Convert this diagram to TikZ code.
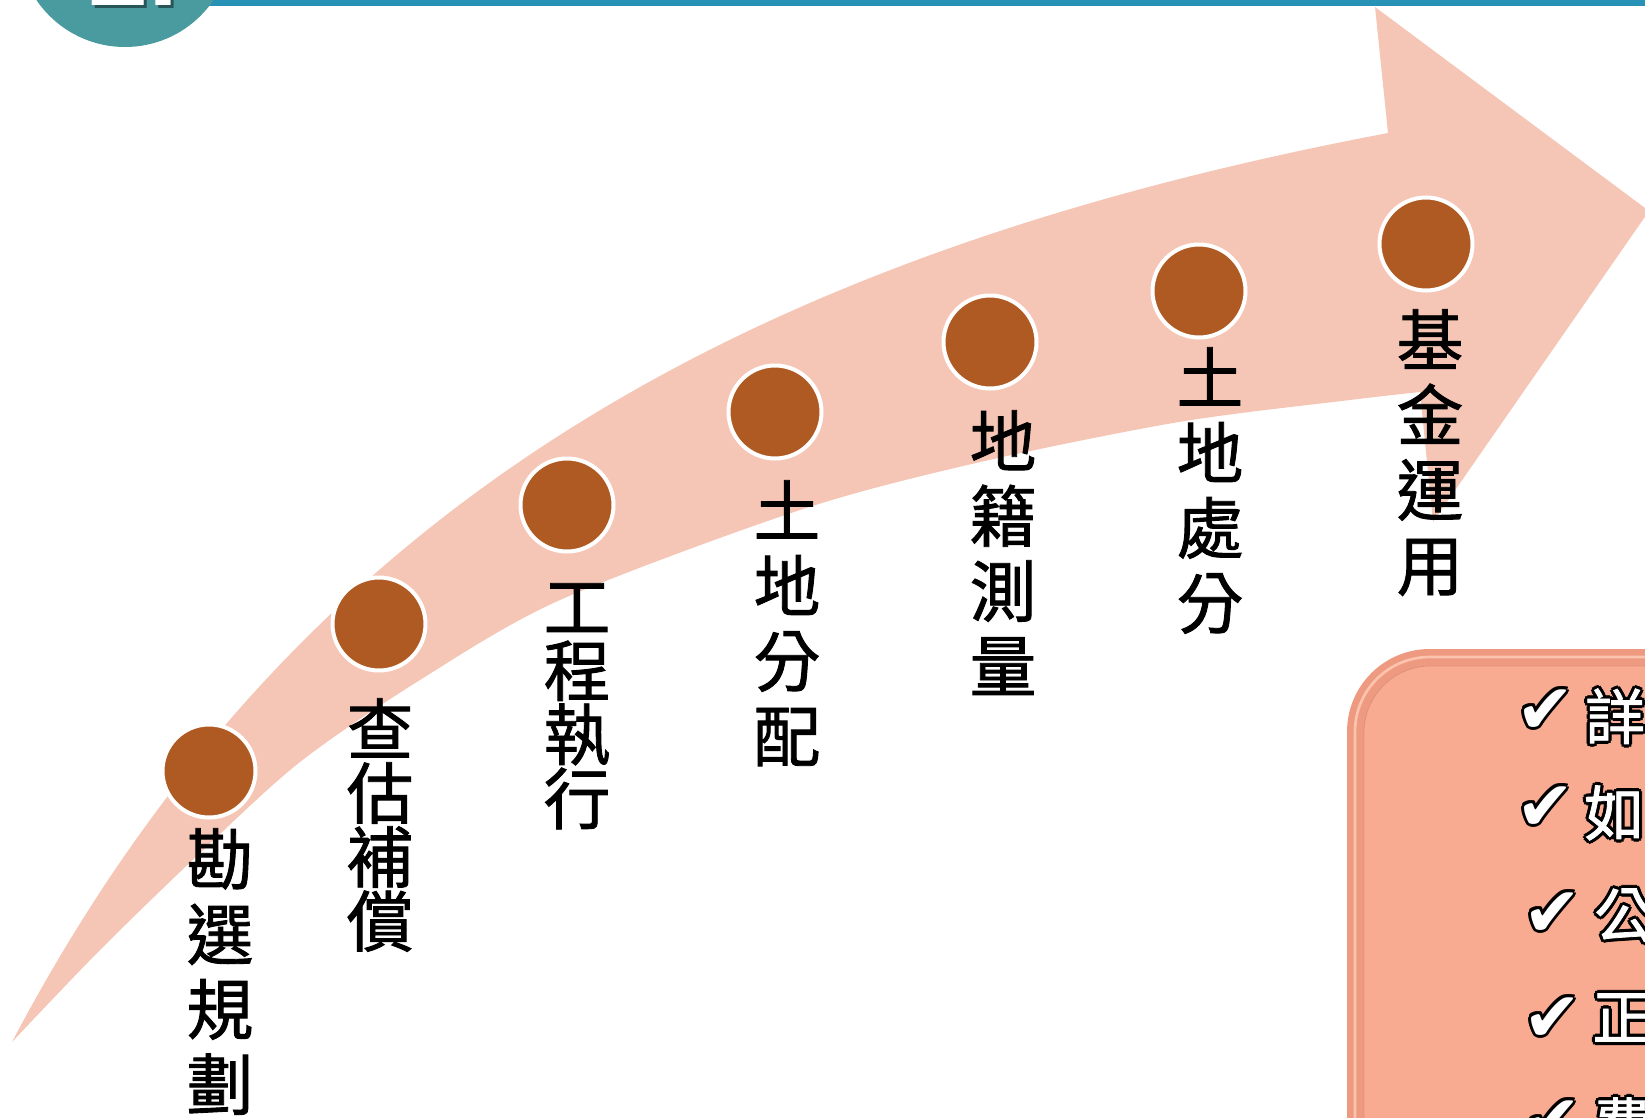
\documentclass[tikz,border=0pt]{standalone}
\usepackage{fontspec}
\newfontfamily\cjk[FakeBold=1.3]{Noto Sans CJK TC}
\newfontfamily\dejavu{DejaVu Sans}
\newfontfamily\lsans{Liberation Sans}
\definecolor{bandc}{HTML}{F5C6B6}
\definecolor{dotc}{HTML}{AE5A22}
\definecolor{tealc}{HTML}{499BA0}
\definecolor{barblue}{HTML}{2892B6}
\definecolor{boxface}{HTML}{F9AB91}
\definecolor{boxrim}{HTML}{EE9A80}
\definecolor{boxhi}{HTML}{FCC4AE}
\newcommand\nsk{\setlength{\lineskiplimit}{-40pt}\setlength{\lineskip}{0pt}}
\newcommand\lblfontA{\cjk\fontsize{50pt}{56.25pt}\selectfont\nsk}
\newcommand\lblfontB{\cjk\fontsize{50pt}{48pt}\selectfont\nsk}
\newcommand\gcopy[3]{\rlap{\hspace*{#1}\raisebox{#2}{\color{black}#3}}}
\newcommand\glowtxt[1]{%
  \gcopy{2.4pt}{0pt}{#1}\gcopy{-2.4pt}{0pt}{#1}\gcopy{0pt}{2.4pt}{#1}\gcopy{0pt}{-2.4pt}{#1}%
  \gcopy{1.7pt}{1.7pt}{#1}\gcopy{-1.7pt}{1.7pt}{#1}\gcopy{1.7pt}{-1.7pt}{#1}\gcopy{-1.7pt}{-1.7pt}{#1}%
  {\color{white}#1}}
\begin{document}
\begin{tikzpicture}[x=0.75pt,y=-0.75pt,
  dotnode/.style={circle,fill=dotc,draw=white,line width=3pt,minimum size=69.75pt,inner sep=0pt},
  lblA/.style={font=\lblfontA,align=center,anchor=north,inner sep=0pt},
  lblB/.style={font=\lblfontB,align=center,anchor=north,inner sep=0pt},
  chk/.style={font=\dejavu\fontsize{52pt}{52pt}\selectfont,anchor=north west,inner sep=0pt},
  boxtxt/.style={font=\cjk\fontsize{45pt}{45pt}\selectfont,anchor=north west,inner sep=0pt}]
\useasboundingbox (0,0) rectangle (1645,1117);
\clip (0,0) rectangle (1645,1117);
% curved arrow band
\fill[bandc] (12,1042) .. controls (287,520) and (723,259) .. (1388,133)
  -- (1375,7) -- (1649,211) -- (1433,522) -- (1420,392)
  -- plot[smooth,tension=0.5] coordinates {(1420,392) (1350,400) (1179,422) (976,463) (800,510) (560,600) (420,680) (300,762) (200,853) (100,950) (12,1042)} -- cycle;
% dots
\node[dotnode] (c1) at (209,771) {};
\node[dotnode] (c2) at (379,624) {};
\node[dotnode] (c3) at (567,505) {};
\node[dotnode] (c4) at (775,412) {};
\node[dotnode] (c5) at (990,342) {};
\node[dotnode] (c6) at (1199,291) {};
\node[dotnode] (c7) at (1426,244) {};
% labels
\node[lblA] (l1) at (220,828) {勘\\選\\規\\劃};
\node[lblB] (l2) at (380,698) {查\\估\\補\\償};
\node[lblB] (l3) at (577,583) {工\\程\\執\\行};
\node[lblA] (l4) at (787,480) {土\\地\\分\\配};
\node[lblA] (l5) at (1003,410) {地\\籍\\測\\量};
\node[lblA] (l6) at (1210,347) {土\\地\\處\\分};
\node[lblA] (l7) at (1430,309) {基\\金\\運\\用};
% right box
\fill[boxrim] (1347,649) [rounded corners=62pt] rectangle (1760,1250);
\draw[boxhi,line width=2pt] (1355,657) [rounded corners=56pt] rectangle (1760,1250);
\fill[boxface] (1364,666) [rounded corners=50pt] rectangle (1760,1250);
\draw[boxrim!85!black,line width=0.6pt,opacity=0.5] (1364,666) [rounded corners=50pt] rectangle (1760,1250);
\node[chk] (k1) at (1516,686) {\glowtxt{✔}};
\node[chk] (k2) at (1516,783) {\glowtxt{✔}};
\node[chk] (k3) at (1523,889) {\glowtxt{✔}};
\node[chk] (k4) at (1523,994) {\glowtxt{✔}};
\node[chk] (k5) at (1523,1097) {\glowtxt{✔}};
\node[boxtxt] (t1) at (1585,685) {\glowtxt{詳}};
\node[boxtxt] (t2) at (1584,782) {\glowtxt{如}};
\node[boxtxt] (t3) at (1594,885) {\glowtxt{公}};
\node[boxtxt] (t4) at (1592,990) {\glowtxt{正}};
\node[boxtxt] (t5) at (1592,1094) {\glowtxt{費}};
% top bar and number badge
\fill[barblue] (150,-2) rectangle (1650,6);
\fill[tealc] (125,-60) circle[radius=107];
\node[font=\lsans\bfseries\fontsize{81pt}{81pt}\selectfont,text=black,opacity=0.45,anchor=base west,inner sep=0pt] (nums) at (91,8) {2.};
\node[font=\lsans\bfseries\fontsize{81pt}{81pt}\selectfont,text=white,anchor=base west,inner sep=0pt] (num) at (88,5) {2.};
\end{tikzpicture}
\end{document}
